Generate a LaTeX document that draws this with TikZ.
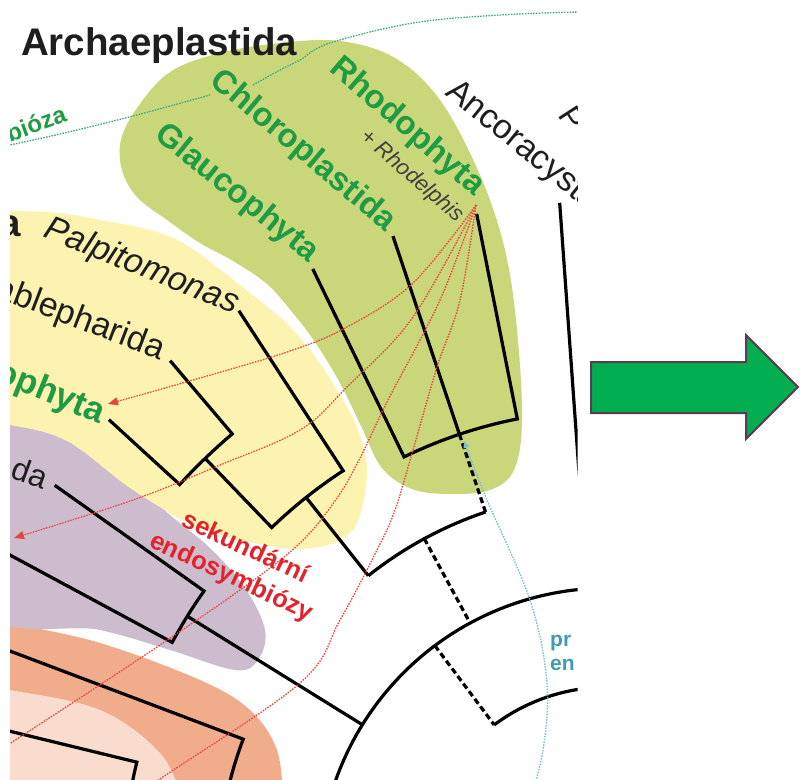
\documentclass[tikz,border=0pt]{standalone}
\usepackage{fontspec}
\setmainfont{Liberation Sans}
\usetikzlibrary{calc,arrows.meta}
\definecolor{gblob}{HTML}{C9D67A}
\definecolor{yblob}{HTML}{FCF3B0}
\definecolor{pblob}{HTML}{CDBCCD}
\definecolor{oblob}{HTML}{F1AC8C}
\definecolor{lblob}{HTML}{F9DCCD}
\definecolor{gtext}{HTML}{1E9B43}
\definecolor{rtext}{HTML}{E3232C}
\definecolor{btext}{HTML}{3D9DB3}
\definecolor{rdot}{HTML}{E8453C}
\definecolor{gdot}{HTML}{3BAA7E}
\definecolor{bdot}{HTML}{7FBFCC}
\definecolor{arrfill}{HTML}{00AE4F}
\definecolor{arredge}{HTML}{5B3B52}
\definecolor{labgrey}{HTML}{1E1E1E}
\begin{document}
\begin{tikzpicture}[x=1pt,y=-1pt,
  branch/.style={line width=3.2pt,line join=miter,line cap=butt},
  dashbranch/.style={line width=3.2pt,dash pattern=on 6pt off 3.5pt},
  reddot/.style={draw=rdot,line width=1.3pt,dash pattern=on 1.5pt off 1.3pt},
  greendot/.style={draw=gdot,line width=1.3pt,dash pattern=on 1.5pt off 1.3pt},
  bluedot/.style={draw=bdot,line width=1.4pt,dash pattern=on 1.5pt off 1.3pt},
  lab/.style={inner sep=0pt,text=labgrey,font=\fontsize{32}{36}\selectfont},
  italab/.style={inner sep=0pt,text=labgrey,font=\fontsize{34}{38}\selectfont\itshape},
  glab/.style={inner sep=0pt,text=gtext,font=\fontsize{33}{38}\selectfont\bfseries},
  headlab/.style={inner sep=0pt,text=labgrey,font=\fontsize{38.5}{44}\selectfont\bfseries},
]
\useasboundingbox (0,0) rectangle (800,779);
\fill[white] (0,0) rectangle (800,779);

% tree geometry (polar around a common centre)
\coordinate (O) at (608,877);
\coordinate (G1) at ($(O)+(-115.9:676)$);
\coordinate (G2) at ($(O)+(-115.9:467)$);
\coordinate (C1) at ($(O)+(-108.55:676)$);
\coordinate (C2) at ($(O)+(-108.55:467)$);
\coordinate (R1) at ($(O)+(-101.2:676)$);
\coordinate (R2) at ($(O)+(-101.2:467)$);
\coordinate (J1) at ($(O)+(-108.55:385)$);
\coordinate (J2) at ($(O)+(-118.5:385)$);
\coordinate (J3) at ($(O)+(-128.5:385)$);
\coordinate (J4) at ($(O)+(-118.5:289)$);
\coordinate (J5) at ($(O)+(-126.8:289)$);
\coordinate (J6) at ($(O)+(-148.2:289)$);
\coordinate (J8) at ($(O)+(-126.8:190)$);
\coordinate (Y5) at ($(O)+(-128.5:485)$);
\coordinate (Q1) at ($(O)+(-123.1:676)$);
\coordinate (Q2) at ($(O)+(-123.1:485)$);
\coordinate (M2) at ($(O)+(-133.9:485)$);
\coordinate (M1) at ($(O)+(-133.9:581)$);
\coordinate (L1) at ($(O)+(-130.3:677)$);
\coordinate (L2) at ($(O)+(-130.3:581)$);
\coordinate (K1) at ($(O)+(-137.5:677)$);
\coordinate (K2) at ($(O)+(-137.5:581)$);
\coordinate (P1) at ($(O)+(-144.7:678)$);
\coordinate (P2) at ($(O)+(-144.7:495)$);
\coordinate (P3) at ($(O)+(-151.7:700)$);
\coordinate (P4) at ($(O)+(-151.7:495)$);
\coordinate (P5) at ($(O)+(-148.2:495)$);
\coordinate (O1) at ($(O)+(-159.3:700)$);
\coordinate (O2) at ($(O)+(-159.3:390)$);
\coordinate (O4) at ($(O)+(-166.3:700)$);
\coordinate (O5) at ($(O)+(-166.3:485)$);
\coordinate (N1) at ($(O)+(-94.1:676)$);
\coordinate (N2) at ($(O)+(-94.1:400)$);
\coordinate (S) at (476,205);
\coordinate (bt) at (464,441);

\begin{scope}
\clip (10,0) rectangle (577.5,779);
% background blobs
\fill[oblob] plot[smooth,tension=0.6] coordinates {(-20,617) (10,623) (100,643) (200,680) (250,710) (277,750) (283,800)} -- (283,820) -- (-20,820) -- cycle;
\fill[lblob] plot[smooth,tension=0.6] coordinates {(-20,687) (10,690) (100,710) (160,753) (183,800)} -- (183,820) -- (-20,820) -- cycle;
\fill[pblob] plot[smooth cycle,tension=0.6] coordinates {(-20,418) (70,435) (130,478) (170,515) (210,548) (245,588) (265,630) (258,660) (235,670) (170,650) (100,630) (-20,607)};
\fill[yblob] plot[smooth,tension=0.6] coordinates {(-20,212) (10,211) (60,213) (100,220) (150,230) (183,243) (217,267) (250,293) (283,320) (310,350) (337,390) (358,430) (367,470) (360,515) (345,537) (313,548) (270,546) (200,528) (133,490) (67,441) (10,425) (-20,424)} -- cycle;
\fill[gblob] plot[smooth cycle,tension=0.6] coordinates {(122,170) (137,197) (167,220) (200,243) (233,261) (267,284) (292,312) (315,342) (340,383) (362,428) (382,468) (412,489) (450,494) (490,490) (514,470) (522,420) (517,330) (505,250) (480,175) (440,100) (395,58) (340,41) (280,43) (220,53) (170,72) (137,108) (121,140)};

% tree
\draw[branch] (R1) -- (R2) -- plot[domain=101.2:115.9,samples=25] ({608+467*cos(\x)},{877-467*sin(\x)}) -- (G1);
\draw[branch] (C1) -- (C2);
\draw[dashbranch] (C2) -- (J1);
\draw[branch] plot[domain=108.55:128.5,samples=30] ({608+385*cos(\x)},{877-385*sin(\x)});
\draw[dashbranch] (J2) -- (J4);
\draw[branch] plot[domain=93:171,samples=80] ({608+289*cos(\x)},{877-289*sin(\x)});
\draw[dashbranch] (J5) -- (J8);
\draw[branch] plot[domain=94:126.8,samples=30] ({608+190*cos(\x)},{877-190*sin(\x)});
\draw[branch] (Q1) -- (Q2) -- plot[domain=123.1:133.9,samples=12] ({608+485*cos(\x)},{877-485*sin(\x)}) -- (M1);
\draw[branch] (L1) -- (L2) -- plot[domain=130.3:137.5,samples=10] ({608+581*cos(\x)},{877-581*sin(\x)}) -- (K1);
\draw[branch] (Y5) -- (J3);
\draw[branch] (P1) -- (P2) -- plot[domain=144.7:151.7,samples=10] ({608+495*cos(\x)},{877-495*sin(\x)}) -- (P3);
\draw[branch] (P5) -- (J6);
\draw[branch] (O1) -- (O2) -- plot[domain=159.3:172,samples=15] ({608+390*cos(\x)},{877-390*sin(\x)});
\draw[branch] (O4) -- (O5) -- plot[domain=166.3:175,samples=12] ({608+485*cos(\x)},{877-485*sin(\x)});
\draw[branch] (N1) -- (N2);

% endosymbiosis lines
\draw[reddot,-{Triangle[length=10pt,width=8pt]}] plot[smooth,tension=0.6] coordinates {(S) (413,283) (347,327) (290,351) (200,378) (108,404)};
\draw[reddot,-{Triangle[length=10pt,width=8pt]}] plot[smooth,tension=0.6] coordinates {(S) (413,317) (347,387) (300,430) (220,465) (133,500) (14,538)};
\draw[reddot] plot[smooth,tension=0.6] coordinates {(S) (440,300) (388,400) (360,458) (337,498) (300,543) (240,590) (130,665) (0,750)};
\draw[reddot] plot[smooth,tension=0.6] coordinates {(S) (460,300) (437,367) (413,450) (395,510) (377,550) (340,620) (300,683) (160,779) (125,805)};
\draw[greendot] plot[smooth,tension=0.6] coordinates {(5,146) (60,134) (133,116) (210,95)};
\draw[greendot] plot[smooth,tension=0.6] coordinates {(253,85) (280,70) (300,60) (330,43) (413,23) (500,15) (580,12)};
\draw[bluedot,-{Triangle[length=7pt,width=6pt]}] plot[smooth,tension=0.6] coordinates {(530,800) (543,750) (547,683) (530,600) (487,500) (bt)};

% labels
\node[headlab,anchor=base west] (arch) at (21,55) {Archaeplastida};
\node[headlab,anchor=base east] (crypt) at (21,236) {a};
\node[glab,rotate=-39,anchor=base east] (glau) at (309,263) {Glaucophyta};
\node[glab,rotate=-40,anchor=base east] (chlo) at (386,232) {Chloroplastida};
\node[glab,rotate=-41,anchor=base east] (rhodo) at (474,197) {Rhodophyta};
\node[inner sep=0pt,text=labgrey!85,font=\fontsize{22}{26}\selectfont\itshape,rotate=-41,anchor=base east] (rhodel) at (457,223) {+ Rhodelphis};
\node[lab,font=\fontsize{34}{38}\selectfont,rotate=-39,anchor=base west] (anco) at (444,94) {Ancoracysta};
\node[lab,rotate=-57,anchor=base west] (prov) at (557,115) {P};
\node[italab,rotate=-22,anchor=base east] (palp) at (234,314) {Palpitomonas};
\node[lab,font=\fontsize{34}{38}\selectfont,rotate=-21,anchor=base east] (kata) at (160,360) {ablepharida};
\node[glab,font=\fontsize{35}{40}\selectfont\bfseries,rotate=-22,anchor=base east] (cryo) at (100,424) {ophyta};
\node[lab,rotate=-20,anchor=base east] (cent) at (43,490) {da};
\node[inner sep=0pt,text=gtext,font=\fontsize{24}{28}\selectfont\bfseries,rotate=20,anchor=base east] (prim1) at (68,121) {bióza};
\node[inner sep=0pt,text=rtext,font=\fontsize{25.5}{32}\selectfont\bfseries,rotate=-25,align=center] (sek) at (238,563) {sekundární\\endosymbiózy};
\node[inner sep=0pt,text=btext,font=\fontsize{21}{23}\selectfont\bfseries,anchor=base west] (prim2a) at (550,646) {pr};
\node[inner sep=0pt,text=btext,font=\fontsize{21}{23}\selectfont\bfseries,anchor=base west] (prim2b) at (550,670) {en};
\end{scope}

% big arrow
\draw[draw=arredge,fill=arrfill,line width=2pt,line join=miter] (591,362) -- (746,362) -- (746,335) -- (798,387) -- (746,439) -- (746,413) -- (591,413) -- cycle;
\end{tikzpicture}
\end{document}
